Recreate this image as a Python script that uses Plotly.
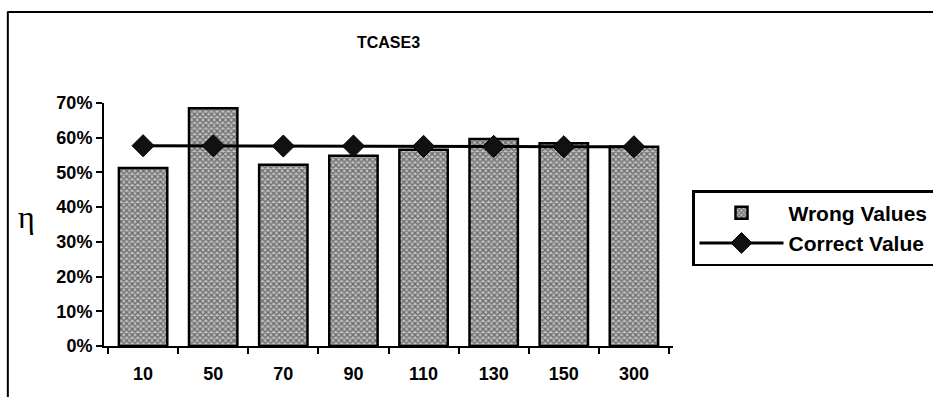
import plotly.graph_objects as go

categories = ["10", "50", "70", "90", "110", "130", "150", "300"]
wrong_values = [0.513, 0.685, 0.522, 0.548, 0.565, 0.596, 0.584, 0.574]
correct_value = [0.577, 0.577, 0.576, 0.576, 0.575, 0.575, 0.574, 0.574]

FONT = "Arial, Liberation Sans, sans-serif"

fig = go.Figure()
fig.add_trace(go.Bar(
    x=categories, y=wrong_values, name="Wrong Values",
    marker=dict(color="white", line=dict(color="black", width=2.5),
                pattern=dict(shape="x", fgcolor="#111", bgcolor="#c0c0c0", size=4, solidity=0.55)),
))
fig.add_trace(go.Scatter(
    x=categories, y=correct_value, name="Correct Value", mode="lines+markers",
    line=dict(color="black", width=3),
    marker=dict(symbol="diamond", size=17, color="#111", line=dict(color="black", width=1)),
))

fig.update_layout(
    width=933, height=397,
    margin=dict(l=104, r=260, t=103, b=51, autoexpand=False),
    paper_bgcolor="white", plot_bgcolor="white",
    bargap=0.31,
    showlegend=True,
    font=dict(family=FONT, size=18, color="black", weight="bold"),
    title=dict(text="TCASE3", x=0.5, xref="paper", y=0.892, yanchor="middle",
               xanchor="center", font=dict(family=FONT, size=16, weight="bold")),
    legend=dict(xref="container", yref="container", x=0.7417, xanchor="left",
                y=0.5214, yanchor="top",
                bordercolor="black", borderwidth=2.5, bgcolor="white",
                font=dict(family=FONT, size=21, weight="bold"),
                itemwidth=84, tracegroupgap=2),
    xaxis=dict(showline=True, linecolor="black", linewidth=2, ticks="outside",
               tickson="boundaries", ticklen=6, tickwidth=2, tickcolor="black",
               showgrid=False, ticklabelstandoff=10,
               tickfont=dict(family=FONT, size=18, weight="bold")),
    yaxis=dict(range=[0, 0.7], dtick=0.1, tickformat=".0%", showline=True,
               linecolor="black", linewidth=2, ticks="outside", ticklen=6,
               tickwidth=2, tickcolor="black", showgrid=False, zeroline=False,
               tickfont=dict(family=FONT, size=18, weight="bold")),
    shapes=[
        dict(type="line", xref="paper", yref="paper", x0=-0.17, x1=1.5, y0=1.374, y1=1.374,
             line=dict(color="black", width=2)),
        dict(type="line", xref="paper", yref="paper", x0=-0.169, x1=-0.169, y0=1.374, y1=-0.3,
             line=dict(color="black", width=2)),
    ],
    annotations=[
        dict(text="η", xref="paper", yref="paper", x=-0.155, y=0.53, showarrow=False,
             font=dict(family="Liberation Serif, Times New Roman, serif", size=32, weight="normal")),
    ],
)

fig.write_html("out.html")
